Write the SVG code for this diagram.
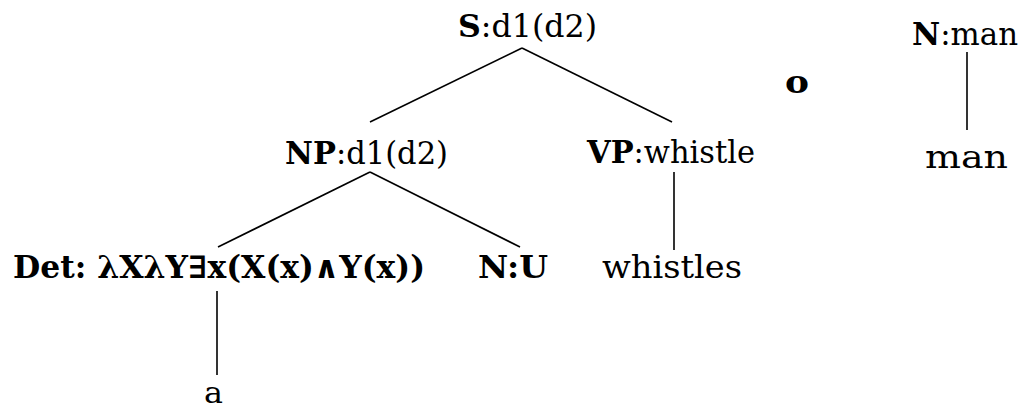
<svg xmlns="http://www.w3.org/2000/svg" width="1021" height="412" viewBox="0 0 1021 412">
<style>
text{font-family:"DejaVu Serif",serif;font-size:31px;fill:#000}
.b{font-weight:bold}
.e line{stroke:#000;stroke-width:1.6}
</style>
<rect width="1021" height="412" fill="#fff"/>
<g class="e" id="connectors">
<line x1="522" y1="48" x2="370" y2="122"/>
<line x1="522" y1="48" x2="672" y2="122"/>
<line x1="370" y1="172" x2="218" y2="247"/>
<line x1="370" y1="172" x2="520" y2="247"/>
<line x1="674" y1="172" x2="674" y2="250"/>
<line x1="217" y1="291" x2="217" y2="375"/>
<line x1="967" y1="52" x2="967" y2="130"/>
</g>
<g id="S"><text x="458" y="37" textLength="139" lengthAdjust="spacingAndGlyphs"><tspan class="b">S</tspan>:d1(d2)</text></g>
<g id="NP"><text x="285" y="164" textLength="163" lengthAdjust="spacingAndGlyphs"><tspan class="b">NP</tspan>:d1(d2)</text></g>
<g id="VP"><text x="587" y="163" textLength="168" lengthAdjust="spacingAndGlyphs"><tspan class="b">VP</tspan>:whistle</text></g>
<g id="Det"><text x="13" y="278" class="b" textLength="412" lengthAdjust="spacingAndGlyphs">Det: λXλY∃x(X(x)∧Y(x))</text></g>
<g id="NU"><text x="478" y="278" class="b" textLength="70" lengthAdjust="spacingAndGlyphs">N:U</text></g>
<g id="whistles"><text x="602" y="278" textLength="140" lengthAdjust="spacingAndGlyphs">whistles</text></g>
<g id="a"><text x="204" y="403" style="font-size:30px" textLength="19" lengthAdjust="spacingAndGlyphs">a</text></g>
<g id="o"><text x="785" y="93" class="b" textLength="24" lengthAdjust="spacingAndGlyphs">o</text></g>
<g id="Nman"><text x="912" y="45" textLength="106" lengthAdjust="spacingAndGlyphs"><tspan class="b">N</tspan>:man</text></g>
<g id="man"><text x="925" y="168" textLength="83" lengthAdjust="spacingAndGlyphs">man</text></g>
</svg>
